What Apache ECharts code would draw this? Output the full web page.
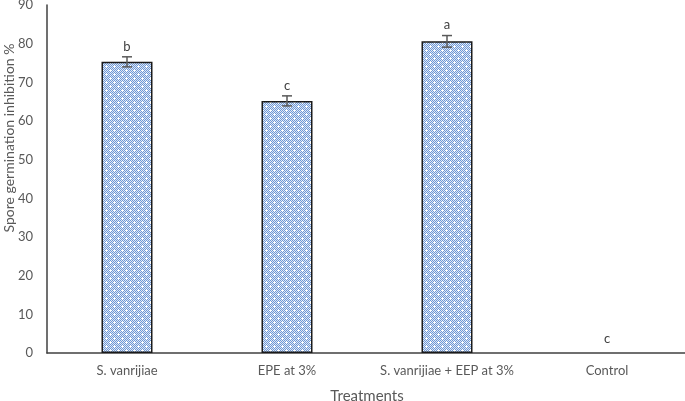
<!DOCTYPE html>
<html><head><meta charset="utf-8">
<script src="https://cdn.jsdelivr.net/npm/echarts@6/dist/echarts.min.js"></script>
<style>html,body{margin:0;padding:0;background:#fff}#c{width:685px;height:401px}</style>
</head><body><div id="c"></div>
<script>
const categories = ["S. vanrijiae", "EPE at 3%", "S. vanrijiae + EEP at 3%", "Control"];
const values = [75.3, 65.2, 80.6, 0];
const errors = [1.3, 1.3, 1.5, 0];
const letters = ["b", "c", "a", "c"];
const yTicks = [0, 10, 20, 30, 40, 50, 60, 70, 80, 90];
const yTitle = "Spore germination inhibition %";

function makePattern() {
  const cv = document.createElement('canvas');
  cv.width = 8; cv.height = 8;
  const g = cv.getContext('2d');
  for (let y = 0; y < 8; y++) for (let x = 0; x < 8; x++) {
    g.fillStyle = ((x + y) % 2 === 0) ? '#6e98d6' : '#dfe8f6';
    g.fillRect(x, y, 1, 1);
  }
  g.fillStyle = '#ffffff';
  g.fillRect(2, 1, 1, 3); g.fillRect(1, 2, 3, 1);
  g.fillRect(6, 5, 1, 3); g.fillRect(5, 6, 3, 1);
  return cv;
}

const chart = echarts.init(document.getElementById('c'));
const font = 'Lato, "Open Sans", sans-serif';
chart.setOption({
  animation: false,
  grid: { left: 47, right: -2, top: 5, bottom: 48, containLabel: false, outerBoundsMode: 'none' },
  graphic: [{
    type: 'text', x: 9, y: 138, rotation: Math.PI / 2,
    style: { text: yTitle, textAlign: 'center', textVerticalAlign: 'middle',
      fill: '#595959', font: '14px ' + font }
  }],
  xAxis: {
    type: 'category', data: categories,
    axisLine: { lineStyle: { color: '#404040', width: 1.5 } },
    axisTick: { show: false },
    axisLabel: { color: '#595959', fontSize: 13, fontFamily: font, margin: 11, interval: 0 },
    name: 'Treatments', nameLocation: 'middle', nameGap: 36,
    nameTextStyle: { color: '#595959', fontSize: 15, fontFamily: font }
  },
  yAxis: {
    type: 'value', min: 0, max: 90, interval: 10,
    axisLine: { show: true, lineStyle: { color: '#404040', width: 1.5 } },
    axisTick: { show: false },
    splitLine: { show: false },
    axisLabel: { color: '#595959', fontSize: 13, fontFamily: font, margin: 14,
      formatter: v => yTicks.includes(v) ? String(v) : '' }
  },
  series: [
    {
      type: 'bar', data: values.map(v => v === 0 ? '-' : v), barWidth: 51,
      itemStyle: { color: { image: makePattern(), repeat: 'repeat' }, borderColor: '#1a1a1a', borderWidth: 1.5 }
    },
    {
      type: 'custom', z: 10,
      data: values.map((v, i) => [i, v, errors[i]]),
      renderItem: function (params, api) {
        const i = api.value(0), v = api.value(1), e = api.value(2);
        const top = api.coord([i, v + e]);
        const bot = api.coord([i, v - e]);
        const hw = 5;
        const children = [];
        if (e > 0) {
          const st = { stroke: '#595959', lineWidth: 1.5 };
          children.push({ type: 'line', shape: { x1: top[0], y1: top[1], x2: bot[0], y2: bot[1] }, style: st });
          children.push({ type: 'line', shape: { x1: top[0] - hw, y1: top[1], x2: top[0] + hw, y2: top[1] }, style: st });
          children.push({ type: 'line', shape: { x1: bot[0] - hw, y1: bot[1], x2: bot[0] + hw, y2: bot[1] }, style: st });
        }
        children.push({ type: 'text', style: {
          text: letters[params.dataIndex], x: top[0], y: (e > 0 ? top[1] - 4 : top[1] - 8),
          textAlign: 'center', textVerticalAlign: 'bottom',
          fill: '#404040', font: '13px ' + font } });
        return { type: 'group', children: children };
      }
    }
  ]
});
</script></body></html>
